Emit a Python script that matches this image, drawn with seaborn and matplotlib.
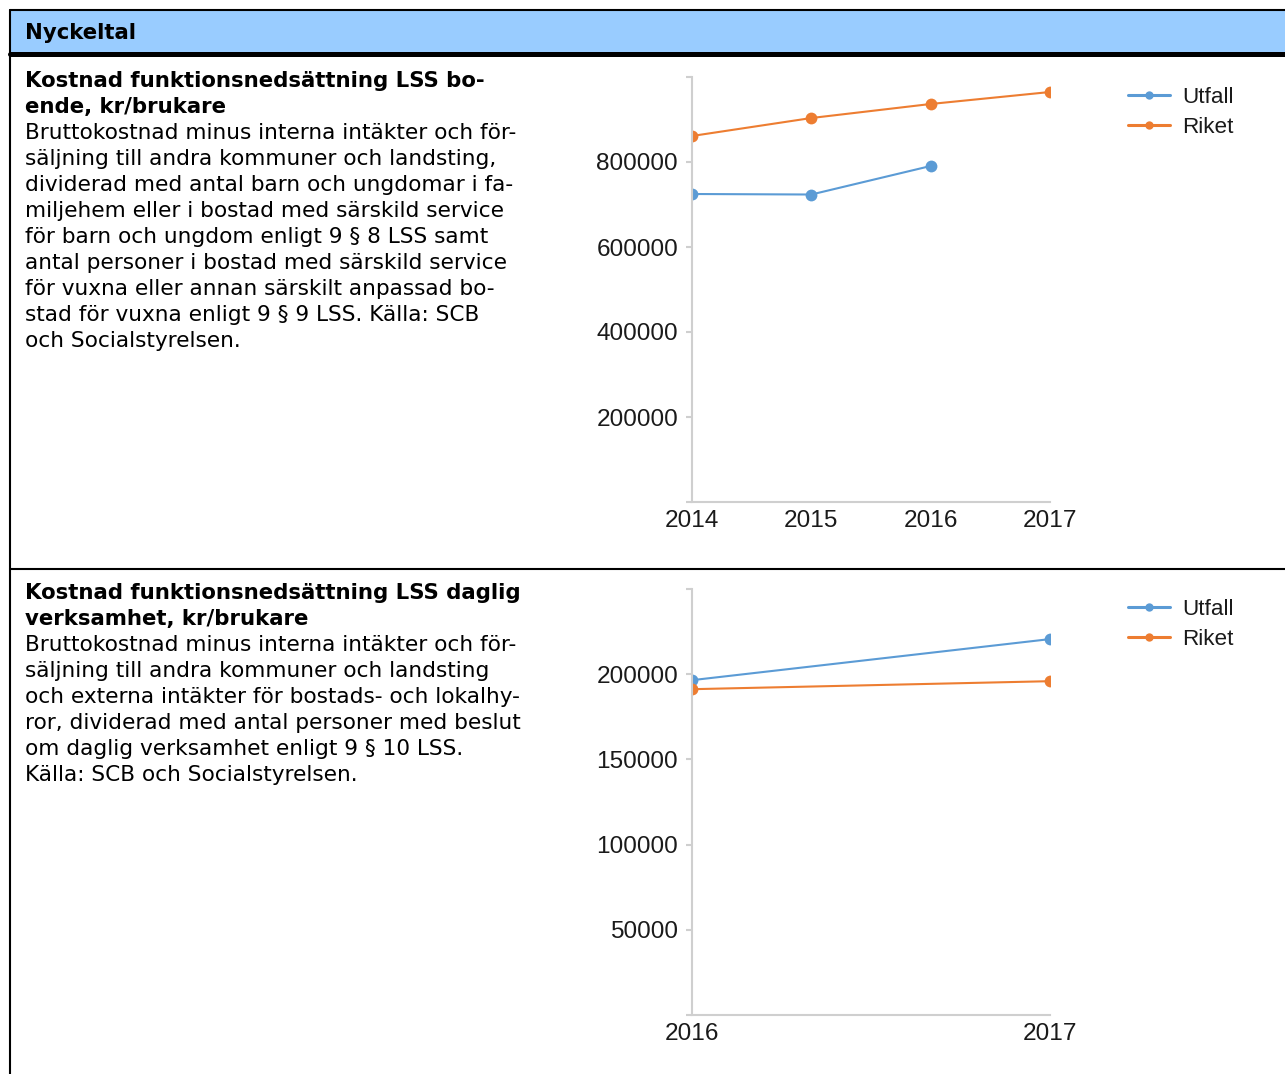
import matplotlib
matplotlib.use("Agg")
import matplotlib.pyplot as plt
from matplotlib.patches import Rectangle
from matplotlib.lines import Line2D
import seaborn as sns
import pandas as pd

# --- data -------------------------------------------------------------
boende_years = [2014, 2015, 2016, 2017]
boende_utfall = [724700, 723500, 790600, None]
boende_riket = [861200, 903500, 936500, 964700]

daglig_years = [2016, 2017]
daglig_utfall = [196500, 220600]
daglig_riket = [191200, 195900]

series_names = ["Utfall", "Riket"]
series_colors = ["#5B9BD5", "#ED7D31"]

header_text = "Nyckeltal"

boende_title = ["Kostnad funktionsnedsättning LSS bo-", "ende, kr/brukare"]
boende_desc = [
    "Bruttokostnad minus interna intäkter och för-",
    "säljning till andra kommuner och landsting,",
    "dividerad med antal barn och ungdomar i fa-",
    "miljehem eller i bostad med särskild service",
    "för barn och ungdom enligt 9 § 8 LSS samt",
    "antal personer i bostad med särskild service",
    "för vuxna eller annan särskilt anpassad bo-",
    "stad för vuxna enligt 9 § 9 LSS. Källa: SCB",
    "och Socialstyrelsen.",
]

daglig_title = ["Kostnad funktionsnedsättning LSS daglig", "verksamhet, kr/brukare"]
daglig_desc = [
    "Bruttokostnad minus interna intäkter och för-",
    "säljning till andra kommuner och landsting",
    "och externa intäkter för bostads- och lokalhy-",
    "ror, dividerad med antal personer med beslut",
    "om daglig verksamhet enligt 9 § 10 LSS.",
    "Källa: SCB och Socialstyrelsen.",
]

boende_yticks = [0, 200000, 400000, 600000, 800000, 1000000]
boende_ylabels = ["", "200000", "400000", "600000", "800000", ""]
daglig_yticks = [0, 50000, 100000, 150000, 200000, 250000]
daglig_ylabels = ["", "50000", "100000", "150000", "200000", ""]


def long_frame(years, utfall, riket):
    rows = []
    for name, vals in zip(series_names, [utfall, riket]):
        for yr, v in zip(years, vals):
            if v is not None:
                rows.append({"År": yr, "Serie": name, "Värde": v})
    return pd.DataFrame(rows)


# --- figure -----------------------------------------------------------
sns.set_style("white")
plt.rcParams["font.family"] = ["DejaVu Sans"]

W, H = 1285, 1074
fig = plt.figure(figsize=(W / 100, H / 100), dpi=100)
fig.patch.set_facecolor("white")

# full-figure pixel canvas for the table frame and text
bg = fig.add_axes([0, 0, 1, 1])
bg.set_xlim(0, W)
bg.set_ylim(H, 0)
bg.axis("off")

bg.add_patch(Rectangle((10, 10), W - 10, 42, facecolor="#99CCFF", edgecolor="none"))
bg.add_line(Line2D([10, W], [10, 10], color="black", lw=1.5))
bg.add_line(Line2D([10, 10], [10, H], color="black", lw=1.5))
bg.add_line(Line2D([10, W], [53.5, 53.5], color="black", lw=3.6))
bg.add_line(Line2D([10, W], [569, 569], color="black", lw=1.5))

TXT_BOLD = 15.3
TXT = 15.6
LINE = 26

bg.text(25, 33, header_text, fontsize=TXT_BOLD, fontweight="bold", va="center",
        ha="left", color="black")


def draw_block(y0, title, desc):
    y = y0
    for ln in title:
        bg.text(25, y, ln, fontsize=TXT_BOLD, fontweight="bold", va="center",
                ha="left", color="black")
        y += LINE
    for ln in desc:
        bg.text(25, y, ln, fontsize=TXT, va="center", ha="left", color="black")
        y += LINE


draw_block(81, boende_title, boende_desc)
draw_block(593, daglig_title, daglig_desc)


def px_axes(left, right, top, bottom):
    return fig.add_axes([left / W, 1 - bottom / H, (right - left) / W, (bottom - top) / H])


AXIS_GREY = "#CFCFCF"
TICK_TXT = "#1A1A1A"


def draw_chart(ax, df, years, yticks, ylabels, legend_y):
    sns.lineplot(
        data=df, x="År", y="Värde", hue="Serie", hue_order=series_names,
        palette=series_colors, marker="o", markersize=8.5, markeredgewidth=0,
        linewidth=1.5, ax=ax, legend=False,
    )
    ax.set_xlim(years[0], years[-1])
    ax.set_ylim(yticks[0], yticks[-1])
    ax.set_xticks(years)
    ax.set_xticklabels([str(y) for y in years])
    ax.set_yticks(yticks)
    ax.set_yticklabels(ylabels)
    ax.set_xlabel("")
    ax.set_ylabel("")
    for s in ["top", "right"]:
        ax.spines[s].set_visible(False)
    for s in ["left", "bottom"]:
        ax.spines[s].set_color(AXIS_GREY)
        ax.spines[s].set_linewidth(1.5)
    ax.tick_params(axis="y", length=4.5, width=1.5, color=AXIS_GREY, pad=5.5,
                   labelsize=17.6, labelcolor=TICK_TXT, left=True)
    ax.tick_params(axis="x", length=0, pad=6, labelsize=17.6, labelcolor=TICK_TXT)
    for lab in ax.get_xticklabels() + ax.get_yticklabels():
        lab.set_family("Liberation Sans")
    ax.set_facecolor("none")
    ax.grid(False)

    handles = [
        Line2D([], [], color=c, lw=2.2, marker="o", markersize=6, markeredgewidth=0)
        for c in series_colors
    ]
    leg = ax.legend(
        handles, series_names, loc="upper left",
        bbox_to_anchor=(1128, legend_y), bbox_transform=bg.transData,
        frameon=False, borderpad=0, borderaxespad=0, handlelength=1.85,
        handletextpad=0.55, labelspacing=0.4,
        prop={"family": "Liberation Sans", "size": 16.2},
    )
    for t in leg.get_texts():
        t.set_color(TICK_TXT)


ax1 = px_axes(692, 1050, 77, 502)
draw_chart(ax1, long_frame(boende_years, boende_utfall, boende_riket),
           boende_years, boende_yticks, boende_ylabels, 87)

ax2 = px_axes(692, 1050, 589, 1015)
draw_chart(ax2, long_frame(daglig_years, daglig_utfall, daglig_riket),
           daglig_years, daglig_yticks, daglig_ylabels, 599)

fig.savefig("out.png", dpi=100, facecolor="white")
